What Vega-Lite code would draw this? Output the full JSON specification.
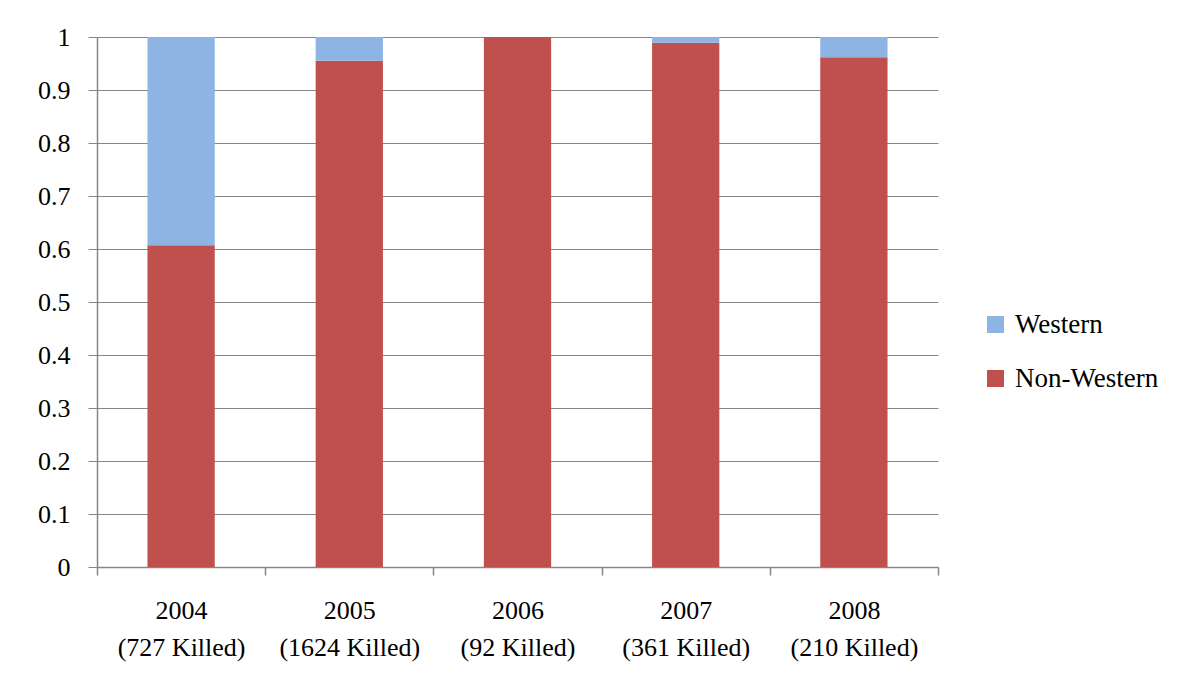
{
  "$schema": "https://vega.github.io/schema/vega-lite/v6.json",
  "width": 841,
  "height": 530,
  "autosize": "none",
  "padding": {"left": 97, "top": 37, "right": 248, "bottom": 124},
  "background": "white",
  "data": {
    "values": [
      {"year": "2004|(727 Killed)", "group": "Non-Western", "share": 0.607, "ord": 1},
      {"year": "2004|(727 Killed)", "group": "Western", "share": 0.393, "ord": 2},
      {"year": "2005|(1624 Killed)", "group": "Non-Western", "share": 0.955, "ord": 1},
      {"year": "2005|(1624 Killed)", "group": "Western", "share": 0.045, "ord": 2},
      {"year": "2006|(92 Killed)", "group": "Non-Western", "share": 1.0, "ord": 1},
      {"year": "2006|(92 Killed)", "group": "Western", "share": 0.0, "ord": 2},
      {"year": "2007|(361 Killed)", "group": "Non-Western", "share": 0.989, "ord": 1},
      {"year": "2007|(361 Killed)", "group": "Western", "share": 0.011, "ord": 2},
      {"year": "2008|(210 Killed)", "group": "Non-Western", "share": 0.962, "ord": 1},
      {"year": "2008|(210 Killed)", "group": "Western", "share": 0.038, "ord": 2}
    ]
  },
  "mark": {"type": "bar", "width": {"band": 0.4}},
  "encoding": {
    "x": {
      "field": "year",
      "type": "nominal",
      "sort": null,
      "scale": {"paddingInner": 0, "paddingOuter": 0},
      "axis": {
        "title": null,
        "labelAngle": 0,
        "labelExpr": "split(datum.label, '|')",
        "labelFont": "Liberation Serif",
        "labelFontSize": 26,
        "labelColor": "#000000",
        "labelLineHeight": 37,
        "labelPadding": 22,
        "tickBand": "extent",
        "tickSize": 8,
        "tickColor": "#868686",
        "domainColor": "#868686",
        "domainWidth": 1.5,
        "tickWidth": 1.5
      }
    },
    "y": {
      "field": "share",
      "type": "quantitative",
      "stack": "zero",
      "scale": {"domain": [0, 1], "nice": false},
      "axis": {
        "title": null,
        "values": [0, 0.1, 0.2, 0.3, 0.4, 0.5, 0.6, 0.7, 0.8, 0.9, 1],
        "format": ".1~f",
        "labelFont": "Liberation Serif",
        "labelFontSize": 26,
        "labelColor": "#000000",
        "labelPadding": 18,
        "tickSize": 9,
        "tickColor": "#868686",
        "domainColor": "#868686",
        "domainWidth": 1.5,
        "grid": true,
        "gridColor": "#868686",
        "gridWidth": 1
      }
    },
    "color": {
      "field": "group",
      "type": "nominal",
      "scale": {"domain": ["Western", "Non-Western"], "range": ["#8EB4E3", "#C0504D"]},
      "legend": {
        "title": null,
        "orient": "none",
        "legendX": 885,
        "legendY": 274,
        "padding": 0,
        "symbolType": "square",
        "symbolSize": 289,
        "symbolStrokeWidth": 0,
        "labelFont": "Liberation Serif",
        "labelFontSize": 27,
        "labelColor": "#000000",
        "rowPadding": 26,
        "labelOffset": 6
      }
    },
    "order": {"field": "ord", "type": "quantitative"}
  },
  "config": {
    "view": {"stroke": null},
    "axis": {"labelLimit": 300}
  }
}
